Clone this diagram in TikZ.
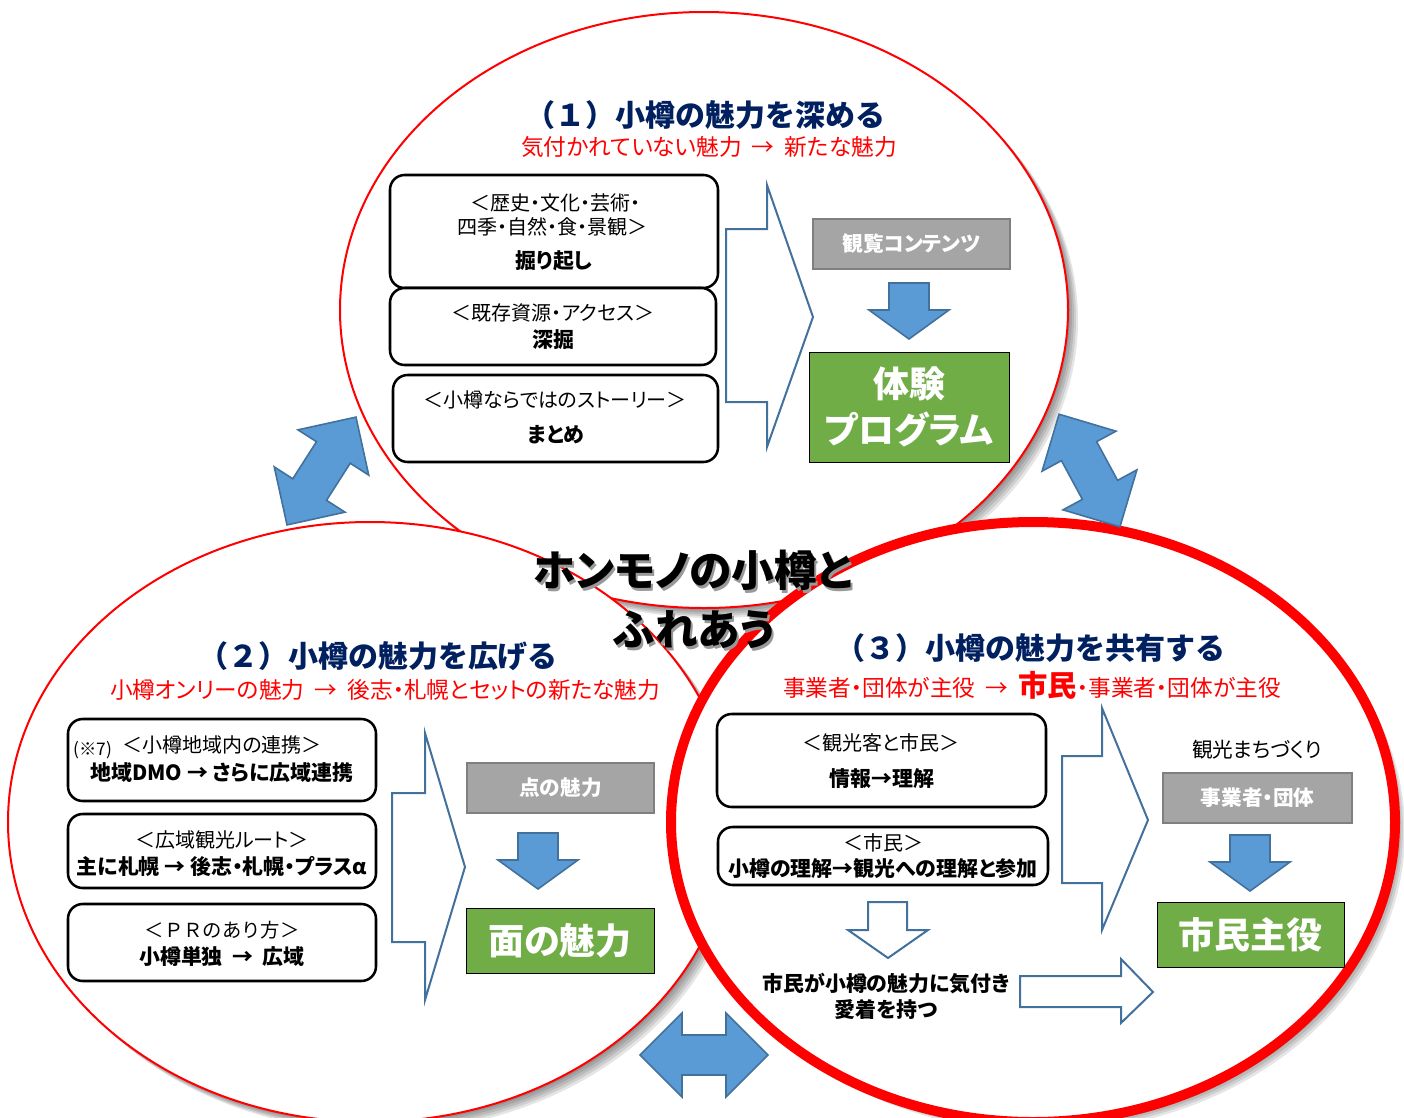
\documentclass[tikz,border=0pt]{standalone}
\usepackage{fontspec}
\setmainfont{Noto Sans CJK JP}[RawFeature=+palt]
\newfontfamily\jpwide{Noto Sans CJK JP}

\definecolor{navy}{HTML}{002060}
\definecolor{boxgray}{HTML}{A5A5A5}
\definecolor{boxgrayline}{HTML}{7F7F7F}
\definecolor{boxgreen}{HTML}{70AD47}
\definecolor{arrowblue}{HTML}{5B9BD5}
\definecolor{arrowline}{HTML}{41719C}

\tikzset{
  ring/.style={draw=red, fill=white},
  shade/.style={fill=black, opacity=0.1},
  title/.style={font=\jpwide\bfseries\fontsize{22.5}{26}\selectfont, text=navy, inner sep=0pt},
  subtitle/.style={font=\fontsize{17}{20}\selectfont, text=red, inner sep=0pt},
  rbox/.style={draw=black, line width=1.9pt, rounded corners=11pt, fill=white},
  boxtext/.style={font=\fontsize{15}{18}\selectfont, inner sep=0pt},
  boxbold/.style={font=\bfseries\fontsize{15.7}{19}\selectfont, inner sep=0pt},
  graybox/.style={draw=boxgrayline, line width=1.5pt, fill=boxgray},
  graylabel/.style={font=\bfseries\fontsize{15.5}{18}\selectfont, text=white},
  greenbox/.style={fill=boxgreen},
  greenlabel/.style={font=\bfseries\fontsize{27}{34}\selectfont, text=white, align=center},
  downarrow/.style={draw=arrowline, line width=1.2pt, fill=arrowblue},
  dblarrow/.style={draw=arrowline, line width=1.2pt, fill=arrowblue},
  outarrow/.style={draw=arrowline, line width=1.5pt, fill=white},
  bigtext/.style={font=\bfseries\fontsize{32}{38}\selectfont, inner sep=0pt}
}

\begin{document}
\begin{tikzpicture}[x=0.75pt,y=-0.75pt]
    \useasboundingbox (0,0) rectangle (1404,1118);

    % circle 1
    \foreach \s in {2,4,...,10}
        \fill[shade] (704+\s,310+\s) ellipse [x radius=364, y radius=298];
    \draw[ring, line width=1.5pt] (704,310) ellipse [x radius=364, y radius=298];

    % circle 2
    \foreach \s in {2,4,...,10}
        \fill[shade] (370+\s,822+\s) ellipse [x radius=362, y radius=300];
    \draw[ring, line width=1.5pt] (370,822) ellipse [x radius=362, y radius=300];

    % circle 3
    \foreach \s in {2,4,...,10}
        \fill[shade] (1033+\s,822+\s) ellipse [x radius=362, y radius=300];
    \draw[ring, line width=7.5pt] (1033,822) ellipse [x radius=362, y radius=300];

    % double arrows between the circles
    \foreach \cx/\cy/\a in {321.5/471/57.4, 1089.5/470.5/-61.6, 704/1055/0}
        \draw[dblarrow, shift={(\cx,\cy)}, rotate=\a]
            (-64,0) -- (-22,-42) -- (-22,-20) -- (22,-20) -- (22,-42) -- (64,0)
            -- (22,42) -- (22,20) -- (-22,20) -- (-22,42) -- cycle;

    % (1) deepen
    \node[title] (t1) at (705,115) {（１）小樽の魅力を深める};
    \node[subtitle] (s1) at (709,147) {気付かれていない魅力\ \ →\ \ 新たな魅力};

    \draw[rbox] (390,175) rectangle (718,288);
    \draw[rbox] (390,288) rectangle (716,365);
    \draw[rbox] (393,375) rectangle (718,462);
    \node[boxtext] (a1) at (555,203) {＜歴史・文化・芸術・};
    \node[boxtext] (a2) at (552,227) {四季・自然・食・景観＞};
    \node[boxbold] (a3) at (554,261) {掘り起し};
    \node[boxtext] (b1) at (553,313) {＜既存資源・アクセス＞};
    \node[boxbold] (b2) at (553,340) {深掘};
    \node[boxtext] (c1) at (555,400) {＜小樽ならではのストーリー＞};
    \node[boxbold] (c2) at (556,435) {まとめ};

    \draw[outarrow] (726,229) -- (767,229) -- (767,185) -- (813,317) -- (767,447) -- (767,402) -- (726,402) -- cycle;

    \draw[graybox] (813,219) rectangle node[graylabel] (kanran) {観覧コンテンツ} (1010,269);
    \draw[greenbox] (809,352) rectangle node[greenlabel] (taiken) {体験\\プログラム} (1009,462);

    % (2) widen
    \node[title] (t2) at (378,656) {（２）小樽の魅力を広げる};
    \node[subtitle] (s2) at (385,690) {小樽オンリーの魅力\ \ →\ \ 後志・札幌とセットの新たな魅力};

    \draw[rbox] (68,719) rectangle (376,801);
    \draw[rbox] (68,814) rectangle (376,888);
    \draw[rbox] (68,904) rectangle (376,981);
    \node[boxtext, font=\fontsize{13}{15}\selectfont] (note) at (93,750) {(※7)};
    \node[boxtext] (d1) at (222,745) {＜小樽地域内の連携＞};
    \node[boxbold] (d2) at (222,773) {地域DMO → さらに広域連携};
    \node[boxtext] (e1) at (222,840) {＜広域観光ルート＞};
    \node[boxbold] (e2) at (222,866) {主に札幌 → 後志・札幌・プラスα};
    \node[boxtext, font=\jpwide\fontsize{14.5}{17}\selectfont] (f1) at (222,930) {＜ＰＲのあり方＞};
    \node[boxbold] (f2) at (222,956) {小樽単独\ \ →\ \ 広域};

    \draw[outarrow] (392,793) -- (425,793) -- (425,733) -- (465,867) -- (425,1000) -- (425,942) -- (392,942) -- cycle;

    \draw[graybox] (467,763) rectangle node[graylabel] (ten) {点の魅力} (654,813);
    \draw[greenbox] (466,908) rectangle node[greenlabel] (men) {面の魅力} (654,973);

    % (3) share
    \node[title] (t3) at (1030,648) {（３）小樽の魅力を共有する};
    \node[subtitle] (s3) at (1032,685) {事業者・団体が主役\ \ →\ \ {\bfseries\fontsize{22}{24}\selectfont 市民}・事業者・団体が主役};

    \draw[rbox] (717,714) rectangle (1046,807);
    \draw[rbox] (718,827) rectangle (1048,885);
    \node[boxtext] (g1) at (881,743) {＜観光客と市民＞};
    \node[boxbold] (g2) at (882,779) {情報→理解};
    \node[boxtext] (h1) at (883,843) {＜市民＞};
    \node[boxbold] (h2) at (883,869) {小樽の理解→観光への理解と参加};

    \draw[outarrow] (868,902) -- (907,902) -- (907,930) -- (928,930) -- (888,958) -- (848,930) -- (868,930) -- cycle;
    \node[boxbold] (k1) at (886,984) {市民が小樽の魅力に気付き};
    \node[boxbold] (k2) at (886,1010) {愛着を持つ};
    \draw[outarrow] (1020,976) -- (1121,976) -- (1121,959) -- (1153,992) -- (1121,1023) -- (1121,1007) -- (1020,1007) -- cycle;

    \draw[outarrow] (1062,756) -- (1102,756) -- (1102,708) -- (1148,820) -- (1102,930) -- (1102,883) -- (1062,883) -- cycle;

    \node[boxtext, font=\fontsize{15.5}{18}\selectfont] (machi) at (1257,750) {観光まちづくり};
    \draw[graybox] (1163,773) rectangle node[graylabel] (jigyo) {事業者・団体} (1352,823);
    \draw[greenbox] (1157,902) rectangle node[greenlabel] (shimin) {市民主役} (1344,967);

    % solid arrows gray -> green
    \foreach \x/\y in {909/283, 538/833, 1250/835}
        \draw[downarrow] (\x-20,\y) -- (\x+20,\y) -- (\x+20,\y+27) -- (\x+40,\y+27)
            -- (\x,\y+56) -- (\x-40,\y+27) -- (\x-20,\y+27) -- cycle;

    % centre text
    \node[bigtext, text=black!40] at (695,573) {ホンモノの小樽と};
    \node[bigtext, text=black!40] at (696,633) {ふれあう};
    \node[bigtext] (honmono) at (693,570) {ホンモノの小樽と};
    \node[bigtext] (fureau) at (694,630) {ふれあう};
\end{tikzpicture}
\end{document}
